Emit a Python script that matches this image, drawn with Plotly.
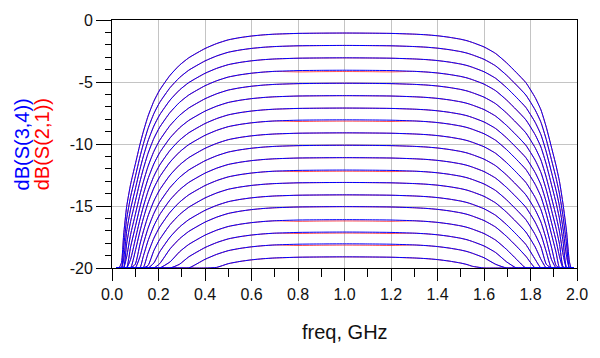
import numpy as np
import plotly.graph_objects as go

# Frequency points (GHz) and roll-off relative to the in-band level (dB)
freq_ghz = [0.020, 0.030, 0.041, 0.050, 0.063, 0.080, 0.100, 0.120, 0.134, 0.155, 0.180, 0.205,
            0.250, 0.290, 0.330, 0.400, 0.450, 0.500, 0.550, 0.600, 0.650, 0.700, 0.800, 0.900,
            1.000, 1.100, 1.200, 1.300, 1.350, 1.400, 1.450, 1.500, 1.527, 1.550, 1.600, 1.650,
            1.697, 1.740, 1.780, 1.820, 1.845, 1.868, 1.890, 1.910, 1.925, 1.940, 1.955, 1.967,
            1.975, 1.985]
rolloff_db = [24.0, 21.0, 18.5, 16.3, 14.0, 12.2, 10.6, 9.0, 8.0, 6.7, 5.5, 4.6,
              3.4, 2.6, 2.0, 1.25, 0.85, 0.55, 0.37, 0.24, 0.15, 0.09, 0.03, 0.01,
              0.0, 0.01, 0.03, 0.09, 0.14, 0.22, 0.34, 0.50, 0.62, 0.76, 1.12, 1.65,
              2.40, 3.20, 4.00, 5.20, 6.20, 7.60, 9.20, 10.7, 12.0, 13.8, 16.0, 18.4,
              20.3, 23.5]

# In-band levels of each attenuation state (dB)
s34_levels = [-1.05, -2.05, -3.05, -4.05, -5.1, -6.1, -7.1, -8.05, -9.1, -10.1,
              -11.1, -12.1, -13.1, -14.1, -15.05, -16.1, -17.1, -18.05, -19.1]
s21_levels = [-1.055, -2.055, -3.055, -4.055, -5.105, -6.105, -7.105, -8.055, -9.105, -10.105,
              -11.105, -12.105, -13.105, -14.105, -15.055, -16.105, -17.105, -18.055, -19.105]
# Extra mid-band deviation of S(2,1) (0.8-1.2 GHz), where red shows beside blue
s21_mid_dev = [0, 0, 0, -0.1, 0, 0, 0, -0.1, 0, 0, 0, -0.09, 0, 0, 0, -0.1, -0.08, -0.1, 0]

y_min, y_max = -20, 0
f = np.array(freq_ghz)
loss = np.array(rolloff_db)
mid = ((f >= 0.79) & (f <= 1.21)).astype(float)

fig = go.Figure()
for lvl, dev in zip(s21_levels, s21_mid_dev):
    y = np.maximum(lvl - loss + dev * mid, y_min)
    fig.add_trace(go.Scatter(x=f, y=y, mode="lines", line=dict(color="#ff0000", width=0.7, shape="spline", smoothing=0.5),
                             showlegend=False, hoverinfo="skip"))
for lvl in s34_levels:
    y = np.maximum(lvl - loss, y_min)
    fig.add_trace(go.Scatter(x=f, y=y, mode="lines", line=dict(color="#0000ff", width=1, shape="spline", smoothing=0.5),
                             showlegend=False, hoverinfo="skip"))

x_ticks = [0.0, 0.2, 0.4, 0.6, 0.8, 1.0, 1.2, 1.4, 1.6, 1.8, 2.0]
x_labels = ["0.0", "0.2", "0.4", "0.6", "0.8", "1.0", "1.2", "1.4", "1.6", "1.8", "2.0"]
y_ticks = [0, -5, -10, -15, -20]
y_labels = ["0", "-5", "-10", "-15", "-20"]

font = "Liberation Sans, Arial, sans-serif"
fig.update_layout(
    width=600, height=358,
    margin=dict(l=112, r=18, t=16, b=90),
    paper_bgcolor="white", plot_bgcolor="white",
    font=dict(family=font, size=16, color="#111111"),
    xaxis=dict(range=[0, 2.0], tickvals=x_ticks, ticktext=x_labels, ticks="outside", ticklen=12,
               tickcolor="black", showline=True, linecolor="black", linewidth=1, mirror=True,
               showgrid=True, gridcolor="#c4c4c4", gridwidth=1, zeroline=False, layer="below traces",
               minor=dict(dtick=0.1, ticks="outside", ticklen=8, tickcolor="black", showgrid=False)),
    yaxis=dict(range=[y_min, y_max], tickvals=y_ticks, ticktext=y_labels, ticks="outside", ticklen=15,
               tickcolor="black", showline=True, linecolor="black", linewidth=1, mirror=True,
               showgrid=True, gridcolor="#c4c4c4", gridwidth=1, zeroline=False, layer="below traces",
               minor=dict(dtick=1, ticks="outside", ticklen=6, tickcolor="black", showgrid=False)),
    annotations=[
        dict(text="freq, GHz", x=0.5, y=-0.258, xref="paper", yref="paper", xanchor="center", yanchor="middle",
             showarrow=False, font=dict(family=font, size=20, color="#111111")),
        dict(text="dB(S(3,4))", x=(21.5 - 112) / 470, y=0.5, xref="paper", yref="paper", xanchor="center",
             yanchor="middle", textangle=-90, showarrow=False, font=dict(family=font, size=20, color="#0000ff")),
        dict(text="dB(S(2,1))", x=(41.5 - 112) / 470, y=0.5, xref="paper", yref="paper", xanchor="center",
             yanchor="middle", textangle=-90, showarrow=False, font=dict(family=font, size=20, color="#ff0000")),
    ],
)
fig.write_html("out.html")
